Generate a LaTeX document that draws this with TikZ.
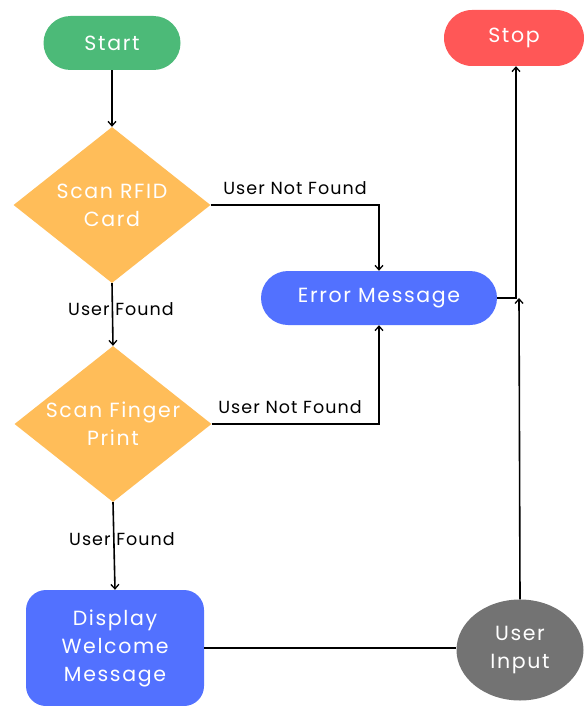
\documentclass[tikz,border=0pt]{standalone}
\usepackage{fontspec}
\setmainfont{Poppins}
\usetikzlibrary{shapes.geometric,arrows.meta}

\definecolor{startgreen}{RGB}{76,186,120}
\definecolor{stopred}{RGB}{255,87,87}
\definecolor{scanorange}{RGB}{255,189,89}
\definecolor{msgblue}{RGB}{82,113,255}
\definecolor{inputgrey}{RGB}{115,115,115}

\begin{document}
\begin{tikzpicture}[
          x=1pt, y=-1pt,
          every node/.style={font=\fontsize{20.5}{28}\selectfont\addfontfeatures{LetterSpace=8}, text=white, align=center, inner sep=0pt},
          terminal/.style={rectangle, rounded corners=27pt, minimum width=137pt, minimum height=54pt},
          scan/.style={diamond, fill=scanorange, minimum width=197pt, minimum height=156pt, aspect=1.27},
          msgbox/.style={rectangle, fill=msgblue},
          lbl/.style={font=\fontsize{17.5}{20}\selectfont\addfontfeatures{LetterSpace=6}, text=black},
          flow/.style={line width=1.6pt, black},
          >={Straight Barb[length=4.5pt, width=8pt, line width=1.3pt]}
        ]
        \useasboundingbox (0,0) rectangle (588,706);

        % terminals
        \node[terminal, fill=startgreen] (start) at (112,43) {Start};
        \node[terminal, fill=stopred, minimum width=140pt, minimum height=56pt, rounded corners=28pt] (stop) at (514,38) {Stop};

        % decisions
        \node[scan] (rfid) at (112,205) {Scan RFID\\Card};
        \node[scan] (finger) at (113,424) {Scan Finger\\Print};

        % messages
        \node[msgbox, rounded corners=27pt, minimum width=236pt, minimum height=54pt] (error) at (379,298) {Error Message};
        \node[msgbox, rounded corners=20pt, minimum width=178pt, minimum height=116pt] (welcome) at (115,648) {Display\\Welcome\\Message};
        \node[ellipse, fill=inputgrey, minimum width=127pt, minimum height=101pt] (input) at (520,650) {User\\Input};

        % corner points
        \coordinate (errin) at (379,205);
        \coordinate (errin2) at (379,424);
        \coordinate (stopturn) at (516,298);
        \coordinate (inputend) at (519,298);

        % connectors
        \draw[flow, ->] (start) -- (rfid);
        \draw[flow, ->] (rfid.east) -- (errin) -- (error.north);
        \draw[flow, ->] (rfid.south) -- (finger.north);
        \draw[flow, ->] (finger.east) -- (errin2) -- (error.south);
        \draw[flow, ->] (finger.south) -- (welcome.north);
        \draw[flow] (welcome.east) -- (input.west |- welcome.east);
        \draw[flow, ->] (input.north) -- (inputend);
        \draw[flow, ->] (error.east) -- (stopturn) -- (stopturn |- stop.south);

        % labels
        \node[lbl] (nf1) at (295,188) {User Not Found};
        \node[lbl] (nf2) at (290,407) {User Not Found};
        \node[lbl] (uf1) at (121,309) {User Found};
        \node[lbl] (uf2) at (122,539) {User Found};
\end{tikzpicture}
\end{document}
